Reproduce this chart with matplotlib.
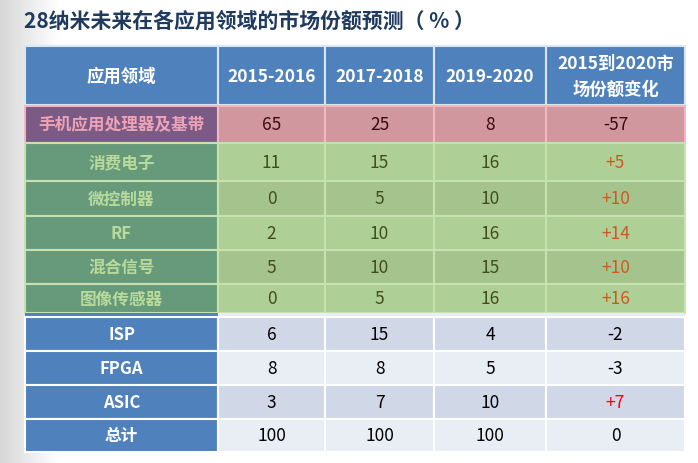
import matplotlib.pyplot as plt
import numpy as np
from matplotlib.patches import Rectangle

plt.rcParams['font.family'] = ['Noto Sans CJK SC', 'DejaVu Sans']

title = '28纳米未来在各应用领域的市场份额预测（ % ）'
header = ['应用领域', '2015-2016', '2017-2018', '2019-2020', '2015到2020市\n场份额变化']
fields = ['手机应用处理器及基带', '消费电子', '微控制器', 'RF', '混合信号', '图像传感器',
          'ISP', 'FPGA', 'ASIC', '总计']
share_1516 = [65, 11, 0, 2, 5, 0, 6, 8, 3, 100]
share_1718 = [25, 15, 5, 10, 10, 5, 15, 8, 7, 100]
share_1920 = [8, 16, 10, 16, 15, 16, 4, 5, 10, 100]
change = ['-57', '+5', '+10', '+14', '+10', '+16', '-2', '-3', '+7', '0']
# row group: pink = phone, green = highlighted, blue = rest
group = ['pink', 'green', 'green', 'green', 'green', 'green', 'blue', 'blue', 'blue', 'blue']

col_edges = [25, 218, 325, 434, 546, 685]
head_top, head_bot = 47, 106
row_edges = [107, 144, 182, 217, 251, 285, 314, 352, 386, 420, 453]
spacer = 4  # thin blue strip left under the green block

fig = plt.figure(figsize=(6.98, 4.64), dpi=100)
ax = fig.add_axes([0, 0, 1, 1])
ax.set_xlim(0, 698)
ax.set_ylim(464, 0)
ax.axis('off')

# soft grey gradient on the left side
grad = np.linspace(0.84, 1.0, 60)
grad = np.tile(grad, (464, 1))
ax.imshow(grad, cmap='gray', vmin=0, vmax=1, extent=(0, 60, 464, 0), aspect='auto', zorder=0)
ax.add_patch(Rectangle((60, 0), 638, 464, color='white', zorder=0))

ax.text(24, 21, title, fontsize=15, fontweight='bold', color='#1F3A5F', va='center', ha='left')

# header
for j, h in enumerate(header):
    x0, x1 = col_edges[j], col_edges[j + 1]
    ax.add_patch(Rectangle((x0, head_top), x1 - x0, head_bot - head_top,
                           facecolor='#4F81BD', edgecolor='#DCE6F2', lw=1.5, zorder=2))
    ax.text((x0 + x1) / 2, (head_top + head_bot) / 2, h, color='white', fontsize=12.5,
            fontweight='bold', ha='center', va='center', linespacing=1.55, zorder=3)

styles = {
    'pink': dict(label_bg='#7B5A86', label_fg='#EBA3B5', cell=['#D0979F', '#D0979F'],
                 edge='#F2B8C2', num='#3A0A10', plus='#3A0A10'),
    'green': dict(label_bg='#679A7A', label_fg='#B8DA9C', cell=['#A4C38D', '#AECF95'],
                  edge='#C6E2B0', num='#3F4F1B', plus='#D0581F'),
    'blue': dict(label_bg='#4F81BD', label_fg='white', cell=['#D0D8E8', '#E9EDF4'],
                 edge='white', num='black', plus='#FF0000'),
}

cols = [share_1516, share_1718, share_1920]
for i, name in enumerate(fields):
    st = styles[group[i]]
    y0, y1 = row_edges[i], row_edges[i + 1]
    if group[i] == 'blue' and group[i - 1] == 'green':
        ax.add_patch(Rectangle((col_edges[0], y0), col_edges[1] - col_edges[0], spacer,
                               facecolor='#4F81BD', edgecolor='none', zorder=2))
        ax.add_patch(Rectangle((col_edges[1], y0), col_edges[-1] - col_edges[1], spacer,
                               facecolor='#E9EDF4', edgecolor='none', zorder=2))
        y0 += spacer
    yc = (y0 + y1) / 2
    shade = st['cell'][i % 2]
    ax.add_patch(Rectangle((col_edges[0], y0), col_edges[1] - col_edges[0], y1 - y0,
                           facecolor=st['label_bg'], edgecolor=st['edge'], lw=1.5, zorder=2))
    ax.text((col_edges[0] + col_edges[1]) / 2, yc, name, color=st['label_fg'], fontsize=12,
            fontweight='bold', ha='center', va='center', zorder=3)
    values = [str(c[i]) for c in cols] + [change[i]]
    for j, v in enumerate(values):
        x0, x1 = col_edges[j + 1], col_edges[j + 2]
        ax.add_patch(Rectangle((x0, y0), x1 - x0, y1 - y0, facecolor=shade,
                               edgecolor=st['edge'], lw=1.5, zorder=2))
        color = st['plus'] if v.startswith('+') else st['num']
        ax.text((x0 + x1) / 2, yc, v, color=color, fontsize=12.5, ha='center', va='center',
                zorder=3)

fig.savefig('out.png', dpi=100)
